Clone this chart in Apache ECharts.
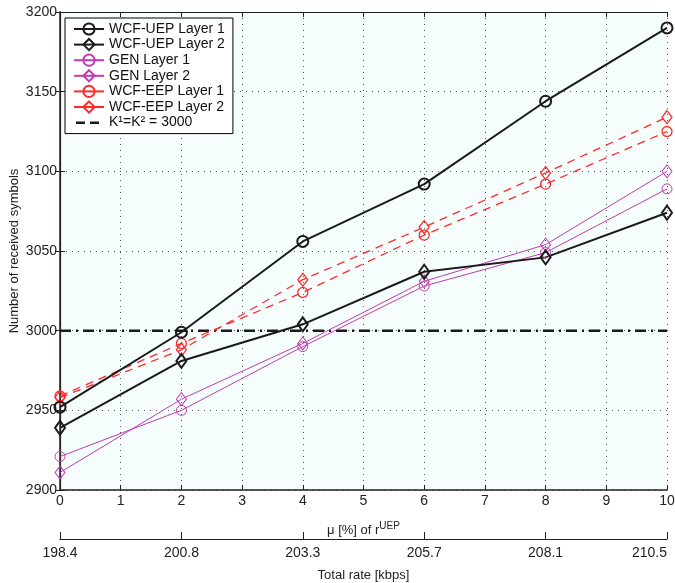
<!DOCTYPE html>
<html>
<head>
<meta charset="utf-8">
<script src="https://cdn.jsdelivr.net/npm/echarts@6/dist/echarts.min.js"></script>
<style>
  html, body { margin: 0; padding: 0; background: #fff; }
  #chart { width: 675px; height: 583px; }
</style>
</head>
<body>
<div id="chart"></div>
<script>
// x positions (mu in %) and total rate labels
var muValues = [0, 2, 4, 6, 8, 10];
var rateLabels = ['198.4', '200.8', '203.3', '205.7', '208.1', '210.5'];

// received symbols per scheme
var wcfUep1 = [2952, 2999, 3056, 3092, 3144, 3190];
var wcfUep2 = [2939, 2981, 3004, 3037, 3046, 3074];
var gen1 = [2921, 2950, 2990, 3028, 3049, 3089];
var gen2 = [2911, 2957, 2992, 3031, 3054, 3100];
var wcfEep1 = [2959, 2992, 3024, 3060, 3092, 3125];
var wcfEep2 = [2958, 2988, 3032, 3065, 3099, 3134];
var kThreshold = 3000;

function pairs(ys) {
  return muValues.map(function (x, i) { return [x, ys[i]]; });
}

var font = 'Liberation Sans, Arial, sans-serif';
var black = '#1a1a1a', magenta = '#c23bb0', red = '#ff2a2a';
var dashIcon = 'path://M0,0H0.01V0.01H0Z M0,13.99H0.01V14H0Z M2,5.8H11V8.4H2Z M16,5.8H25V8.4H16Z M29.99,7H30V7.01H29.99Z';

var chart = echarts.init(document.getElementById('chart'));

var option = {
  animation: false,
  textStyle: { fontFamily: font },
  grid: {
    left: 60, right: 8, top: 12, bottom: 93,
    outerBoundsMode: 'none',
    show: true, backgroundColor: '#f6fdfd', borderWidth: 0
  },
  // y axis title
  graphic: [{
    type: 'text', x: 14, y: 251, rotation: Math.PI / 2,
    style: {
      text: 'Number of received symbols', fill: '#222',
      font: '13px Liberation Sans, Arial, sans-serif',
      align: 'center', verticalAlign: 'middle'
    }
  }],
  legend: {
    orient: 'vertical',
    left: 65, top: 18,
    backgroundColor: '#fff',
    borderColor: '#000', borderWidth: 1,
    padding: [4, 8, 4, 8],
    itemGap: 1.6,
    itemWidth: 30, itemHeight: 14,
    lineStyle: { type: 'solid' },
    textStyle: { fontSize: 14, color: '#111', fontFamily: font },
    data: ['WCF-UEP Layer 1', 'WCF-UEP Layer 2', 'GEN Layer 1', 'GEN Layer 2',
      'WCF-EEP Layer 1', 'WCF-EEP Layer 2',
      { name: 'K\u00b9=K\u00b2 = 3000', icon: dashIcon, itemStyle: { color: black } }]
  },
  xAxis: [
    {
      type: 'value', min: 0, max: 10, interval: 1,
      position: 'bottom',
      axisLine: { lineStyle: { color: '#222', width: 1.5 } },
      axisTick: { inside: true, length: 5, lineStyle: { color: '#222' } },
      axisLabel: { color: '#222', fontSize: 14, margin: 4 },
      splitLine: { show: true, lineStyle: { color: '#555', type: [1, 5], width: 1 } },
      name: '{n|\u03bc [%] of r}{s|UEP}',
      nameLocation: 'middle', nameGap: 31,
      nameTextStyle: {
        rich: {
          n: { fontSize: 13, color: '#222', fontFamily: font },
          s: { fontSize: 10, color: '#222', fontFamily: font, verticalAlign: 'bottom', padding: [0, 0, 8, 0] }
        }
      }
    },
    {
      type: 'value', min: 0, max: 10, interval: 1,
      position: 'top',
      axisLine: { show: true, lineStyle: { color: '#222', width: 1 } },
      axisTick: { show: true, inside: true, length: 5, lineStyle: { color: '#222' } },
      axisLabel: { show: false },
      splitLine: { show: false }
    },
    {
      type: 'category', data: rateLabels, boundaryGap: false,
      position: 'bottom', offset: 49,
      axisLine: { lineStyle: { color: '#222', width: 1.2 } },
      axisTick: { inside: true, length: 7, interval: 0, lineStyle: { color: '#222' } },
      axisLabel: { color: '#222', fontSize: 14, margin: 7, interval: 0, alignMaxLabel: 'right' },
      splitLine: { show: false },
      name: 'Total rate [kbps]', nameLocation: 'middle', nameGap: 30,
      nameTextStyle: { fontSize: 13, color: '#222' }
    }
  ],
  yAxis: [
    {
      type: 'value', min: 2900, max: 3200, interval: 50,
      axisLine: { show: true, lineStyle: { color: '#222', width: 1.5 } },
      axisTick: { inside: true, length: 5, lineStyle: { color: '#222' } },
      axisLabel: { color: '#222', fontSize: 14, margin: 3, formatter: function (v) { return String(v); } },
      splitLine: { show: true, lineStyle: { color: '#555', type: [1, 5], width: 1 } }
    },
    {
      type: 'value', min: 2900, max: 3200, interval: 50,
      position: 'right',
      axisLine: { show: true, lineStyle: { color: '#222', width: 1.2 } },
      axisTick: { show: true, inside: true, length: 5, lineStyle: { color: '#222' } },
      axisLabel: { show: false },
      splitLine: { show: false }
    }
  ],
  series: [
    {
      name: 'K\u00b9=K\u00b2 = 3000', type: 'line', symbol: 'none', z: 1,
      data: [[0, kThreshold], [10, kThreshold]],
      lineStyle: { color: black, width: 2.5, type: [11, 5, 2, 5] },
      itemStyle: { color: black }
    },
    {
      name: 'WCF-EEP Layer 1', type: 'line', data: pairs(wcfEep1),
      symbol: 'circle', symbolSize: 10,
      lineStyle: { color: red, width: 1.3, type: [8, 6] },
      itemStyle: { color: 'transparent', borderColor: red, borderWidth: 1.3 }
    },
    {
      name: 'WCF-EEP Layer 2', type: 'line', data: pairs(wcfEep2),
      symbol: 'diamond', symbolSize: [10, 13],
      lineStyle: { color: red, width: 1.3, type: [8, 6] },
      itemStyle: { color: 'transparent', borderColor: red, borderWidth: 1.3 }
    },
    {
      name: 'GEN Layer 1', type: 'line', data: pairs(gen1),
      symbol: 'circle', symbolSize: 10,
      lineStyle: { color: magenta, width: 1 },
      itemStyle: { color: 'transparent', borderColor: magenta, borderWidth: 1 }
    },
    {
      name: 'GEN Layer 2', type: 'line', data: pairs(gen2),
      symbol: 'diamond', symbolSize: [10, 13],
      lineStyle: { color: magenta, width: 1 },
      itemStyle: { color: 'transparent', borderColor: magenta, borderWidth: 1 }
    },
    {
      name: 'WCF-UEP Layer 1', type: 'line', data: pairs(wcfUep1),
      symbol: 'circle', symbolSize: 11,
      lineStyle: { color: black, width: 2 },
      itemStyle: { color: 'transparent', borderColor: black, borderWidth: 2 }
    },
    {
      name: 'WCF-UEP Layer 2', type: 'line', data: pairs(wcfUep2),
      symbol: 'diamond', symbolSize: [10, 14],
      lineStyle: { color: black, width: 2 },
      itemStyle: { color: 'transparent', borderColor: black, borderWidth: 2 }
    }
  ]
};

chart.setOption(option);
</script>
</body>
</html>
